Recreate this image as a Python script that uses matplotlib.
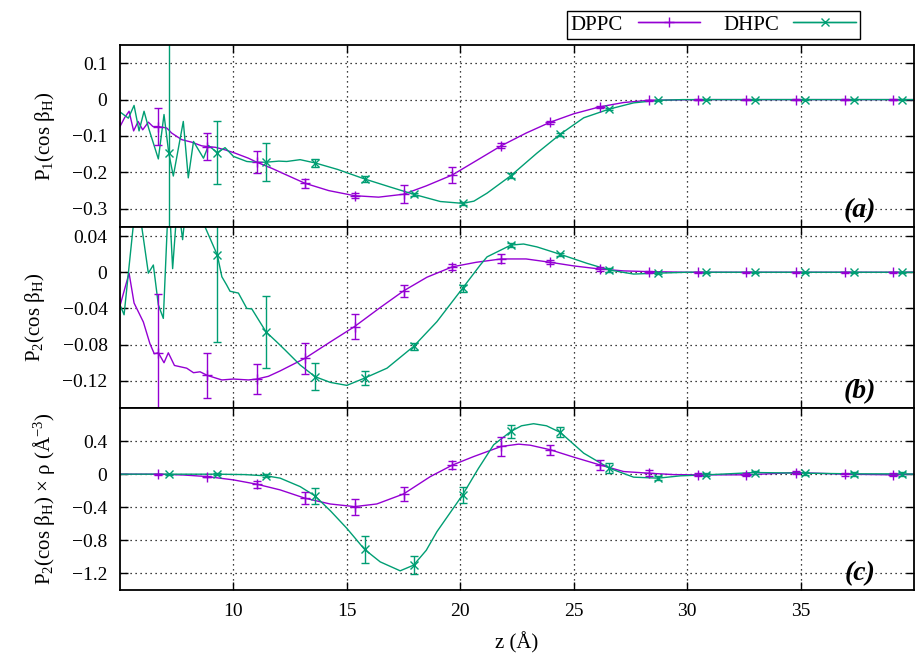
import numpy as np
import matplotlib.pyplot as plt
from matplotlib.container import ErrorbarContainer
from matplotlib.legend_handler import HandlerErrorbar

plt.rcParams['font.family'] = ['Liberation Serif', 'DejaVu Serif']
plt.rcParams['mathtext.fontset'] = 'custom'
plt.rcParams['mathtext.rm'] = 'Liberation Serif'
plt.rcParams['mathtext.it'] = 'Liberation Serif:italic'
plt.rcParams['mathtext.bf'] = 'Liberation Serif:bold'
plt.rcParams['font.size'] = 14

PURPLE = '#9400d3'
GREEN = '#009e73'

# --- krive (gusto uzorkovane) ---
# (a) P1
dppc_a_z = [5.0, 5.2, 5.4, 5.6, 5.8, 6.0, 6.25, 6.45, 6.69, 7.06, 7.28, 7.72, 8.16, 8.6, 8.85, 9.2, 9.63,
            10.07, 10.66, 11.03, 11.7, 12.3, 13.16, 14.2, 15.34, 16.4, 17.5, 18.5, 19.65, 20.7, 21.8, 22.9,
            23.97, 25.0, 26.14, 27.2, 28.3, 29.4, 30.5, 40.0]
dppc_a_y = [-0.074, -0.05, -0.032, -0.086, -0.06, -0.083, -0.062, -0.074, -0.074, -0.078, -0.092, -0.11,
            -0.117, -0.127, -0.129, -0.131, -0.138, -0.147, -0.161, -0.172, -0.189, -0.206, -0.23, -0.25,
            -0.264, -0.268, -0.26, -0.237, -0.207, -0.168, -0.127, -0.092, -0.062, -0.039, -0.02, -0.008,
            -0.002, -0.001, 0.0, 0.0]
dhpc_a_z = [5.0, 5.37, 5.62, 5.84, 6.06, 6.27, 6.69, 6.94, 7.15, 7.35, 7.79, 8.01, 8.24, 8.68, 8.9, 9.29,
            9.63, 10.0, 10.59, 10.96, 11.44, 12.0, 12.35, 12.94, 13.6, 14.6, 15.78, 16.9, 17.94, 19.12,
            20.1, 20.6, 21.18, 22.23, 23.38, 24.41, 25.44, 26.57, 27.64, 28.72, 29.8, 40.0]
dhpc_a_y = [-0.034, -0.051, -0.016, -0.086, -0.032, -0.08, -0.163, -0.041, -0.147, -0.21, -0.06, -0.215,
            -0.115, -0.161, -0.126, -0.146, -0.132, -0.156, -0.17, -0.172, -0.172, -0.169, -0.17, -0.165,
            -0.174, -0.192, -0.218, -0.24, -0.26, -0.28, -0.285, -0.279, -0.257, -0.209, -0.147, -0.095,
            -0.05, -0.026, -0.009, -0.002, 0.0, 0.0]

# (b) P2
dppc_b_z = [5.0, 5.4, 5.62, 6.03, 6.32, 6.51, 6.69, 6.94, 7.13, 7.4, 7.94, 8.24, 8.53, 8.85, 9.49, 10.0,
            10.66, 11.03, 11.54, 12.06, 13.16, 14.27, 15.34, 16.47, 17.5, 18.53, 19.65, 20.7, 21.8, 22.9,
            23.97, 25.0, 26.14, 27.2, 28.3, 30.0, 40.0]
dppc_b_y = [-0.037, -0.001, -0.034, -0.055, -0.079, -0.09, -0.089, -0.1, -0.089, -0.103, -0.106, -0.111,
            -0.11, -0.114, -0.119, -0.118, -0.119, -0.118, -0.115, -0.109, -0.095, -0.077, -0.06, -0.039,
            -0.0206, -0.0055, 0.006, 0.011, 0.0147, 0.0147, 0.011, 0.007, 0.0036, 0.0015, 0.0007, 0.0, 0.0]
dhpc_b_z = [5.0, 5.18, 5.62, 5.84, 6.06, 6.25, 6.47, 6.69, 6.91, 7.15, 7.32, 7.54, 7.76, 7.98, 8.2, 8.45,
            8.75, 9.29, 9.49, 9.7, 9.85, 10.22, 10.59, 10.81, 11.44, 11.91, 12.28, 12.94, 13.6, 14.27, 15.0,
            15.78, 16.77, 17.94, 18.97, 20.1, 20.88, 21.18, 22.23, 22.79, 23.38, 24.41, 25.58, 26.57, 27.64,
            28.72, 30.0, 40.0]
dhpc_b_y = [-0.036, -0.047, 0.06, 0.071, 0.0325, -0.001, 0.008, -0.036, -0.051, 0.09, 0.004, 0.08, 0.036,
            0.09, 0.07, 0.08, 0.05, 0.019, -0.005, -0.014, -0.021, -0.023, -0.04, -0.0405, -0.066, -0.077,
            -0.086, -0.1025, -0.1154, -0.1217, -0.125, -0.117, -0.106, -0.082, -0.0546, -0.0177, 0.008,
            0.017, 0.03, 0.0312, 0.028, 0.0198, 0.0099, 0.0025, -0.002, -0.001, 0.0, 0.0]

# (c) P2 * rho
dppc_c_z = [5.0, 6.69, 7.8, 8.85, 10.0, 11.03, 12.06, 13.16, 14.26, 15.34, 16.32, 17.5, 18.68, 19.65, 20.59,
            21.8, 22.57, 23.09, 23.97, 25.0, 26.14, 27.2, 28.3, 29.4, 30.47, 32.6, 34.78, 36.94, 39.07, 40.0]
dppc_c_y = [0.0, 0.0, -0.01, -0.029, -0.069, -0.121, -0.19, -0.291, -0.36, -0.392, -0.36, -0.239, -0.029,
            0.11, 0.213, 0.335, 0.363, 0.35, 0.295, 0.206, 0.113, 0.032, 0.012, -0.005, -0.008, -0.008,
            0.02, 0.0, -0.008, 0.0]
dhpc_c_z = [5.0, 7.15, 9.29, 10.5, 11.44, 12.06, 12.94, 13.6, 14.3, 15.0, 15.78, 16.47, 17.35, 17.94, 18.5,
            18.97, 20.1, 20.8, 21.47, 22.23, 22.7, 23.23, 23.8, 24.41, 25.44, 26.57, 27.64, 28.72, 29.7,
            30.85, 33.0, 35.19, 37.35, 39.48, 40.0]
dhpc_c_y = [0.0, 0.0, 0.0, -0.005, -0.02, -0.048, -0.15, -0.263, -0.45, -0.655, -0.909, -1.06, -1.168,
            -1.1, -0.92, -0.695, -0.251, 0.07, 0.355, 0.517, 0.585, 0.61, 0.585, 0.505, 0.254, 0.072,
            -0.036, -0.048, -0.02, -0.008, 0.02, 0.012, 0.004, 0.004, 0.0]

# --- tacke sa greskama ---
dppc_z = [6.69, 8.85, 11.03, 13.16, 15.34, 17.5, 19.65, 21.8, 23.97, 26.14, 28.3, 30.47, 32.6, 34.78,
          36.94, 39.07]
dppc_p1 = [-0.074, -0.129, -0.172, -0.23, -0.264, -0.26, -0.207, -0.127, -0.062, -0.02, -0.002, 0, 0, 0, 0, 0]
dppc_p1_err = [0.052, 0.038, 0.03, 0.012, 0.007, 0.025, 0.022, 0.007, 0.004, 0.003, 0.002, 0.001, 0.001,
               0.001, 0.001, 0.001]
dppc_p2 = [-0.089, -0.114, -0.118, -0.095, -0.06, -0.0206, 0.006, 0.0147, 0.011, 0.0036, 0.0007, 0, 0, 0, 0, 0]
dppc_p2_err = [0.065, 0.025, 0.017, 0.017, 0.014, 0.007, 0.003, 0.005, 0.002, 0.002, 0.001, 0.0005, 0.0005,
               0.0005, 0.0005, 0.0005]
dppc_p2rho = [0.0, -0.029, -0.121, -0.291, -0.392, -0.239, 0.11, 0.335, 0.295, 0.113, 0.012, -0.008, -0.008,
              0.02, 0.0, -0.008]
dppc_p2rho_err = [0.005, 0.01, 0.04, 0.07, 0.097, 0.085, 0.045, 0.11, 0.06, 0.06, 0.04, 0.02, 0.02, 0.02,
                  0.02, 0.02]

dhpc_z = [7.15, 9.29, 11.44, 13.6, 15.78, 17.94, 20.1, 22.23, 24.41, 26.57, 28.72, 30.85, 33.0, 35.19,
          37.35, 39.48]
dhpc_p1 = [-0.147, -0.146, -0.172, -0.174, -0.218, -0.26, -0.285, -0.209, -0.095, -0.026, -0.002, 0, 0, 0, 0, 0]
dhpc_p1_err = [0.4, 0.086, 0.053, 0.012, 0.008, 0.004, 0.004, 0.007, 0.004, 0.003, 0.002, 0.001, 0.001,
               0.001, 0.001, 0.001]
dhpc_p2 = [0.09, 0.019, -0.066, -0.1154, -0.117, -0.082, -0.0177, 0.03, 0.0198, 0.0025, -0.001, 0, 0, 0, 0, 0]
dhpc_p2_err = [0.03, 0.096, 0.04, 0.015, 0.008, 0.004, 0.004, 0.002, 0.002, 0.002, 0.001, 0.0005, 0.0005,
               0.0005, 0.0005, 0.0005]
dhpc_p2rho = [0.0, 0.0, -0.02, -0.263, -0.909, -1.1, -0.251, 0.517, 0.505, 0.072, -0.048, -0.008, 0.02,
              0.012, 0.004, 0.004]
dhpc_p2rho_err = [0.005, 0.01, 0.02, 0.097, 0.16, 0.11, 0.095, 0.077, 0.06, 0.06, 0.02, 0.02, 0.02, 0.02,
                  0.02, 0.02]

x_ticks = [10, 15, 20, 25, 30, 35]
yt_a = [0.1, 0, -0.1, -0.2, -0.3]
yt_b = [0.04, 0, -0.04, -0.08, -0.12]
yt_c = [0.4, 0, -0.4, -0.8, -1.2]

W, H = 915, 656
fig = plt.figure(figsize=(W / 100, H / 100), dpi=100)
left, right = 120 / W, 914 / W
rows = [(45, 227), (227, 408), (408, 590)]
axes = [fig.add_axes([left, 1 - b / H, right - left, (b - t) / H]) for t, b in rows]

panels = [
    (dppc_a_z, dppc_a_y, dhpc_a_z, dhpc_a_y, dppc_p1, dppc_p1_err, dhpc_p1, dhpc_p1_err,
     (-0.35, 0.15), yt_a, r'P$_1$(cos β$_\mathrm{H}$)', '(a)'),
    (dppc_b_z, dppc_b_y, dhpc_b_z, dhpc_b_y, dppc_p2, dppc_p2_err, dhpc_p2, dhpc_p2_err,
     (-0.15, 0.05), yt_b, r'P$_2$(cos β$_\mathrm{H}$)', '(b)'),
    (dppc_c_z, dppc_c_y, dhpc_c_z, dhpc_c_y, dppc_p2rho, dppc_p2rho_err, dhpc_p2rho, dhpc_p2rho_err,
     (-1.4, 0.8), yt_c, r'P$_2$(cos β$_\mathrm{H}$) × ρ (Å$^{-3}$)', '(c)'),
]

for ax, (z1, y1, z2, y2, p1, e1, p2, e2, ylim, yt, ylab, tag) in zip(axes, panels):
    ax.plot(z1, y1, color=PURPLE, lw=1.0)
    ax.plot(z2, y2, color=GREEN, lw=1.0)
    ax.errorbar(dppc_z, p1, yerr=e1, fmt='+', color=PURPLE, ms=7, mew=1, elinewidth=1, capsize=3, capthick=1)
    ax.errorbar(dhpc_z, p2, yerr=e2, fmt='x', color=GREEN, ms=6, mew=1, elinewidth=1, capsize=3, capthick=1)
    ax.set_xlim(5, 40)
    ax.set_ylim(*ylim)
    ax.set_xticks(x_ticks)
    ax.set_yticks(yt)
    ax.set_yticklabels([f'{v:g}'.replace('-', '\u2212') for v in yt])
    ax.grid(True, color='black', linestyle=(0, (1, 3)), lw=0.9)
    ax.tick_params(direction='in', length=6, width=1, top=True, right=True, labelsize=14, pad=9)
    for s in ax.spines.values():
        s.set_linewidth(1.3)
    ax.set_ylabel(ylab, fontsize=15, labelpad=11)
    ax.text(0.952, 0.02, tag, transform=ax.transAxes, ha='right', va='bottom',
            fontsize=20, fontweight='bold', fontstyle='italic')

for ax in axes[:2]:
    ax.tick_params(labelbottom=False)
axes[2].set_xticklabels([str(v) for v in x_ticks])
axes[2].set_xlabel('z (Å)', fontsize=15, labelpad=9)

# legenda: linija sa kapicama na krajevima i markerom u sredini
h1 = axes[2].errorbar([], [], xerr=[], fmt='-+', color=PURPLE, ms=7, mew=1, lw=1, capsize=3)
h2 = axes[2].errorbar([], [], xerr=[], fmt='-x', color=GREEN, ms=6, mew=1, lw=1, capsize=3)
leg = fig.legend([h1, h2], ['DPPC', 'DHPC'], loc='upper right', bbox_to_anchor=(860 / W, 1 - 11 / H),
                 ncol=2, markerfirst=False, fancybox=False, framealpha=1, edgecolor='black',
                 borderpad=0.2, handlelength=3.0, handletextpad=0.7, columnspacing=1.1, fontsize=15,
                 borderaxespad=0, handler_map={ErrorbarContainer: HandlerErrorbar(xerr_size=1.5, numpoints=1)})
leg.get_frame().set_linewidth(1.0)

fig.savefig('out.png', dpi=100)
